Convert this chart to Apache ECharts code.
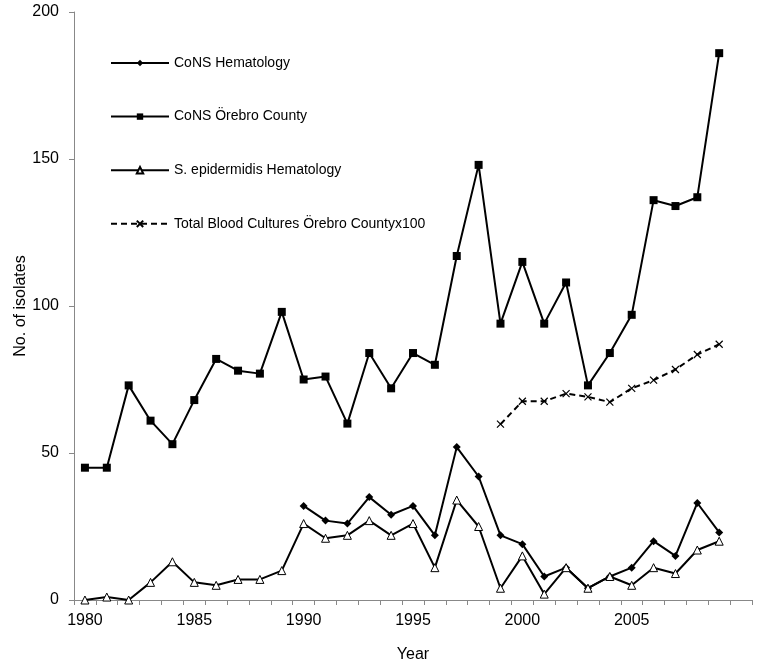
<!DOCTYPE html>
<html>
<head>
<meta charset="utf-8">
<script src="https://cdn.jsdelivr.net/npm/echarts@6/dist/echarts.min.js"></script>
<style>html,body{margin:0;padding:0;background:#fff}#c{width:757px;height:665px}</style>
</head>
<body>
<div id="c"></div>
<script>
const years = ['1980','1981','1982','1983','1984','1985','1986','1987','1988','1989','1990','1991','1992','1993','1994','1995','1996','1997','1998','1999','2000','2001','2002','2003','2004','2005','2006','2007','2008','2009','2010'];
const consHematology = [null,null,null,null,null,null,null,null,null,null,32,27,26,35,29,32,22,52,42,22,19,8,11,4,8,11,20,15,33,23];
const consOrebro = [45,45,73,61,53,68,82,78,77,98,75,76,60,84,72,84,80,117,148,94,115,94,108,73,84,97,136,134,137,186];
const sEpidHematology = [0,1,0,6,13,6,5,7,7,10,26,21,22,27,22,26,11,34,25,4,15,2,11,4,8,5,11,9,17,20];
const bloodCultures = [null,null,null,null,null,null,null,null,null,null,null,null,null,null,null,null,null,null,null,59.8,67.6,67.6,70.2,69.1,67.3,72.0,74.8,78.4,83.5,87.0];
const yTicks = [0,50,100,150,200];

const FONT = "'Liberation Sans', Arial, sans-serif";
const crossPath = 'path://M0,0L10,10M10,0L0,10';

const chart = echarts.init(document.getElementById('c'), null, {renderer:'canvas'});
chart.setOption({
  animation: false,
  backgroundColor: '#ffffff',
  textStyle: {fontFamily: FONT, color: '#000'},
  grid: {left: 74, top: 12, right: 5, bottom: 65, containLabel: false, outerBoundsMode: 'none'},
  legend: {
    orient: 'vertical',
    left: 110, top: 56, padding: 0,
    itemWidth: 58, itemHeight: 8, itemGap: 39.6,
    textStyle: {fontFamily: FONT, fontSize: 14, color: '#000'},
    data: ['CoNS Hematology','CoNS Örebro County','S. epidermidis Hematology','Total Blood Cultures Örebro Countyx100']
  },
  xAxis: {
    type: 'category',
    data: years,
    boundaryGap: true,
    name: 'Year',
    nameLocation: 'middle',
    nameGap: 47,
    nameMoveOverlap: false,
    nameTextStyle: {fontFamily: FONT, fontSize: 16, color: '#000'},
    axisLine: {lineStyle: {color: '#888', width: 1}},
    axisTick: {show: true, interval: 0, length: 5, lineStyle: {color: '#888'}},
    axisLabel: {
      interval: function(i){ return i % 5 === 0 && i < 30; },
      fontFamily: FONT, fontSize: 16, color: '#000', margin: 13
    },
    splitLine: {show: false}
  },
  yAxis: {
    type: 'value',
    min: yTicks[0], max: yTicks[yTicks.length-1], interval: 50,
    name: 'No. of isolates',
    nameLocation: 'middle',
    nameGap: 45,
    nameMoveOverlap: false,
    nameTextStyle: {fontFamily: FONT, fontSize: 16, color: '#000'},
    axisLine: {show: true, lineStyle: {color: '#888', width: 1}},
    axisTick: {show: true, length: 5, lineStyle: {color: '#888'}},
    axisLabel: {fontFamily: FONT, fontSize: 16, color: '#000', margin: 15},
    splitLine: {show: false}
  },
  series: [
    {
      name: 'CoNS Hematology', type: 'line', data: consHematology,
      symbol: 'diamond', symbolSize: 8, showAllSymbol: true,
      lineStyle: {color: '#000', width: 2},
      itemStyle: {color: '#000'}
    },
    {
      name: 'CoNS Örebro County', type: 'line', data: consOrebro,
      symbol: 'rect', symbolSize: 8, showAllSymbol: true,
      lineStyle: {color: '#000', width: 2},
      itemStyle: {color: '#000'}
    },
    {
      name: 'S. epidermidis Hematology', type: 'line', data: sEpidHematology,
      symbol: 'triangle', symbolSize: 8, showAllSymbol: true,
      lineStyle: {color: '#000', width: 2},
      itemStyle: {color: '#fff', borderColor: '#000', borderWidth: 1}
    },
    {
      name: 'Total Blood Cultures Örebro Countyx100', type: 'line', data: bloodCultures,
      symbol: crossPath, symbolSize: 7, showAllSymbol: true,
      lineStyle: {color: '#000', width: 2, type: [6,4]},
      itemStyle: {color: '#000', borderColor: '#000', borderWidth: 1.2}
    }
  ]
});
</script>
</body>
</html>
